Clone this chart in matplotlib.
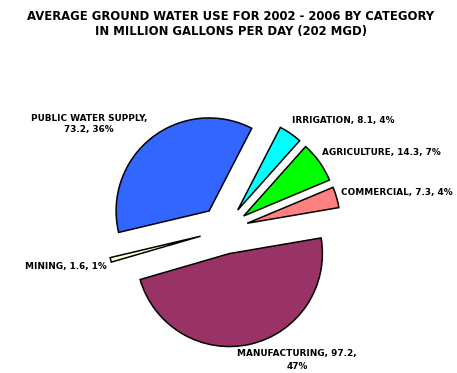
import matplotlib
matplotlib.use('Agg')
import matplotlib.pyplot as plt

categories = ['IRRIGATION', 'AGRICULTURE', 'COMMERCIAL', 'MANUFACTURING', 'MINING', 'PUBLIC WATER SUPPLY']
mgd = [8.1, 14.3, 7.3, 97.2, 1.6, 73.2]
percent = [4, 7, 4, 47, 1, 36]
colors = ['#00FFFF', '#00FF00', '#FF8080', '#993366', '#FFFFCC', '#3366FF']

W, H = 457, 373
fig = plt.figure(figsize=(W / 100, H / 100), dpi=100)
ax = fig.add_axes([0, 0, 1, 1])

# pie centre and radius in pixels
cx, cy, r = 224, 230, 93

ax.pie(mgd, colors=colors, startangle=62.7, counterclock=False,
       explode=[0.26] * len(mgd), radius=1,
       wedgeprops=dict(edgecolor='black', linewidth=1.1))
ax.set_xlim(-cx / r, (W - cx) / r)
ax.set_ylim(-(H - cy) / r, cy / r)
ax.set_aspect('equal')
ax.axis('off')


def px(x, y):
    return x / W, 1 - y / H


font = dict(family='DejaVu Sans', fontweight='bold', color='black')

fig.text(*px(231, 16), 'AVERAGE GROUND WATER USE FOR 2002 - 2006 BY CATEGORY',
         ha='center', va='center', fontsize=8.4, **font)
fig.text(*px(231, 31), 'IN MILLION GALLONS PER DAY (202 MGD)',
         ha='center', va='center', fontsize=8.4, **font)

labels = [f'{c}, {v}, {p}%' for c, v, p in zip(categories, mgd, percent)]
lab = dict(fontsize=6.4, **font)
fig.text(*px(292, 121), labels[0], ha='left', va='center', **lab)
fig.text(*px(322, 152), labels[1], ha='left', va='center', **lab)
fig.text(*px(341, 193), labels[2], ha='left', va='center', **lab)
fig.text(*px(297, 360), f'{categories[3]}, {mgd[3]},\n{percent[3]}%',
         ha='center', va='center', linespacing=1.5, **lab)
fig.text(*px(25, 266), labels[4], ha='left', va='center', **lab)
fig.text(*px(89, 124), f'{categories[5]},\n{mgd[5]}, {percent[5]}%',
         ha='center', va='center', linespacing=1.3, **lab)

fig.savefig('out.png', dpi=100)
